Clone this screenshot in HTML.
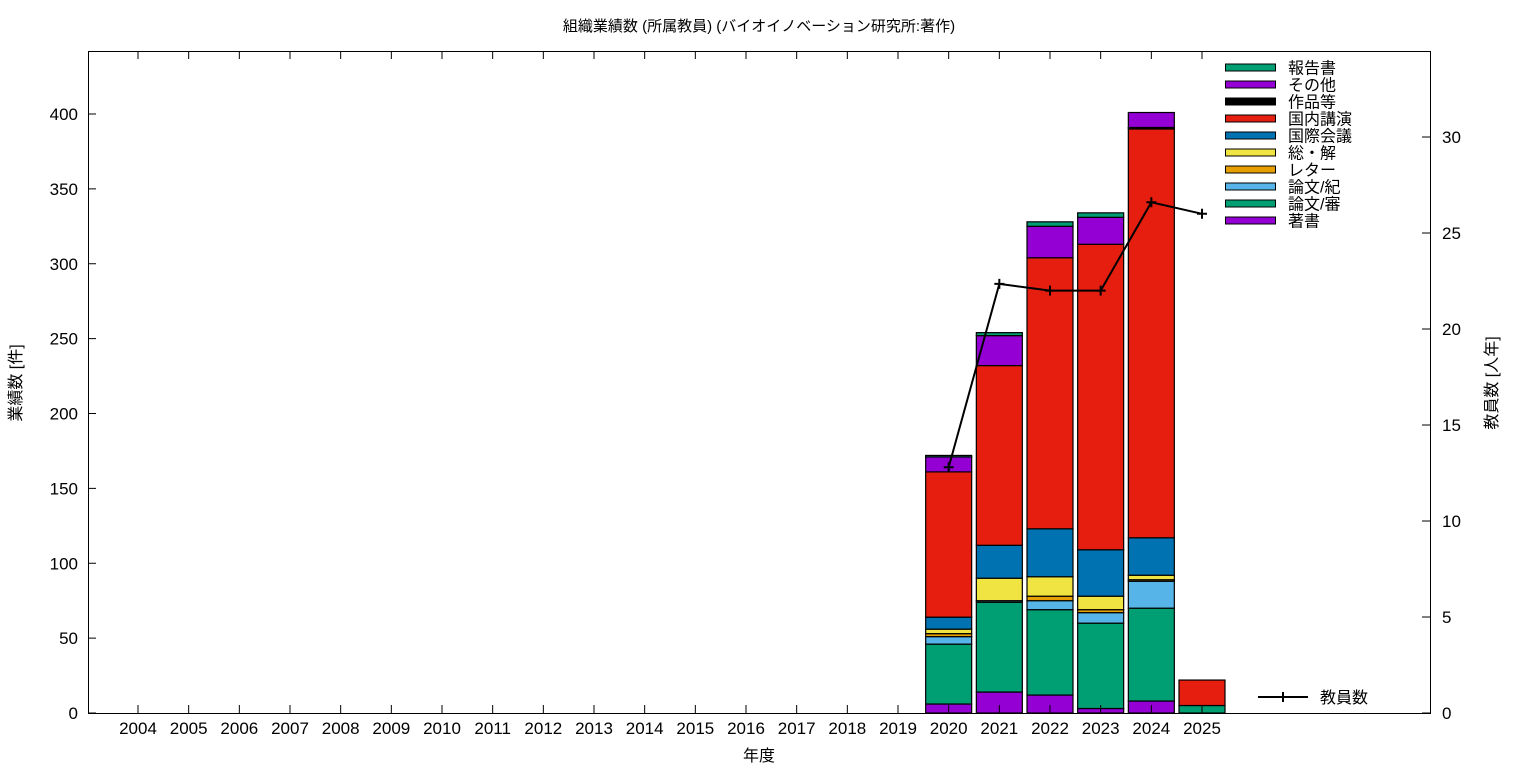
<!DOCTYPE html>
<html><head><meta charset="utf-8"><style>
html,body{margin:0;padding:0;background:#fff;}
svg{display:block;font-family:"Liberation Sans","Noto Sans CJK JP",sans-serif;}
</style></head><body>
<svg id="chart" width="1536" height="768" xmlns="http://www.w3.org/2000/svg">
<text x="759" y="31" font-size="15" text-anchor="middle">組織業績数 (所属教員) (バイオイノベーション研究所:著作)</text>
<rect x="88.5" y="51.5" width="1342" height="662" fill="none" stroke="#000" stroke-width="1"/>
<g id="bars"></g><g id="axes"></g><g id="line"></g><g id="legend"></g>
<text x="759" y="761" font-size="16" text-anchor="middle">年度</text>
<text transform="translate(21,383) rotate(-90)" font-size="16" text-anchor="middle">業績数 [件]</text>
<text transform="translate(1497,383) rotate(-90)" font-size="16" text-anchor="middle">教員数 [人年]</text>
</svg>
<script>
const years=[2004,2005,2006,2007,2008,2009,2010,2011,2012,2013,2014,2015,2016,2017,2018,2019,2020,2021,2022,2023,2024,2025];
const seriesNames=["著書","論文/審","論文/紀","レター","総・解","国際会議","国内講演","作品等","その他","報告書"];
const seriesColors=["#9400d3","#009e73","#56b4e9","#e69f00","#f0e442","#0072b2","#e51e10","#000000","#9400d3","#009e73"];
const chosho =[0,0,0,0,0,0,0,0,0,0,0,0,0,0,0,0,6,14,12,3,8,0];
const shinsa =[0,0,0,0,0,0,0,0,0,0,0,0,0,0,0,0,40,60,57,57,62,5];
const kiyo   =[0,0,0,0,0,0,0,0,0,0,0,0,0,0,0,0,5,1,6,7,18,0];
const letter =[0,0,0,0,0,0,0,0,0,0,0,0,0,0,0,0,2,0,3,2,1,0];
const review =[0,0,0,0,0,0,0,0,0,0,0,0,0,0,0,0,3,15,13,9,3,0];
const intl   =[0,0,0,0,0,0,0,0,0,0,0,0,0,0,0,0,8,22,32,31,25,0];
const domestic=[0,0,0,0,0,0,0,0,0,0,0,0,0,0,0,0,97,120,181,204,273,17];
const works  =[0,0,0,0,0,0,0,0,0,0,0,0,0,0,0,0,0,0,0,0,1,0];
const other  =[0,0,0,0,0,0,0,0,0,0,0,0,0,0,0,0,10,20,21,18,10,0];
const report =[0,0,0,0,0,0,0,0,0,0,0,0,0,0,0,0,1,2,3,3,0,0];
const faculty=[null,null,null,null,null,null,null,null,null,null,null,null,null,null,null,null,12.8,22.35,22.0,22.0,26.6,26.0];
const yTicks=[0,50,100,150,200,250,300,350,400];
const y2Ticks=[0,5,10,15,20,25,30];
const series=[chosho,shinsa,kiyo,letter,review,intl,domestic,works,other,report];

const NS="http://www.w3.org/2000/svg";
function mk(tag,attrs,parent){const e=document.createElementNS(NS,tag);for(const k in attrs)e.setAttribute(k,attrs[k]);parent.appendChild(e);return e;}
const X0=88,X1=1430,Y0=713,YT=51;
const xs=i=>138+i*(1202-138)/(years.length-1);
const ys=v=>Y0-v*(599/400);
const ys2=v=>Y0-v*(576/30);
const bw=46;
const gB=document.getElementById('bars'),gA=document.getElementById('axes'),gL=document.getElementById('line'),gG=document.getElementById('legend');

years.forEach((yr,i)=>{
  let cum=0;
  series.forEach((s,k)=>{
    const v=s[i]; if(!v)return;
    const r=mk('rect',{x:xs(i)-bw/2,y:ys(cum+v),width:bw,height:ys(cum)-ys(cum+v),fill:seriesColors[k],stroke:'#000','stroke-width':1.2},gB);
    
    
    cum+=v;
  });
});
yTicks.forEach(t=>{
  const y=ys(t);
  mk('line',{x1:X0,x2:X0+8,y1:y,y2:y,stroke:'#000'},gA);
  const tx=mk('text',{x:X0-10,y:y+6,'font-size':17,'text-anchor':'end'},gA);
  tx.textContent=t;
  
  
});
y2Ticks.forEach(t=>{
  const y=ys2(t);
  mk('line',{x1:X1-8,x2:X1,y1:y,y2:y,stroke:'#000'},gA);
  const tx=mk('text',{x:X1+12,y:y+6,'font-size':17},gA);
  tx.textContent=t;
  
  
});
years.forEach((yr,i)=>{
  const x=xs(i);
  mk('line',{x1:x,x2:x,y1:Y0,y2:Y0-8,stroke:'#000'},gA);
  mk('line',{x1:x,x2:x,y1:YT,y2:YT+8,stroke:'#000'},gA);
  const tx=mk('text',{x:x,y:734,'font-size':17,'text-anchor':'middle'},gA);
  tx.textContent=yr;
  
  
});
let pts=[];
faculty.forEach((v,i)=>{if(v!=null)pts.push([xs(i),ys2(v)]);});
const pl=mk('polyline',{points:pts.map(p=>p.join(',')).join(' '),fill:'none',stroke:'#000','stroke-width':2},gL);


pts.forEach(p=>{
  const m=mk('path',{d:`M${p[0]-5},${p[1]}h10M${p[0]},${p[1]-5}v10`,stroke:'#000','stroke-width':2},gL);
  
  
});
for(let k=seriesNames.length-1,row=0;k>=0;k--,row++){
  const y=67.5+row*17;
  const r=mk('rect',{x:1225.5,y:y-3.5,width:50,height:7,fill:seriesColors[k],stroke:'#000'},gG);
  
  
  const t=mk('text',{x:1288,y:y+6,'font-size':16},gG);
  t.textContent=seriesNames[k];
  
  
}
mk('path',{d:'M1258,697h50M1283,692v10',stroke:'#000','stroke-width':2},gG);
const lt=mk('text',{x:1320,y:703,'font-size':16},gG);
lt.textContent='教員数';


</script>
</body></html>
